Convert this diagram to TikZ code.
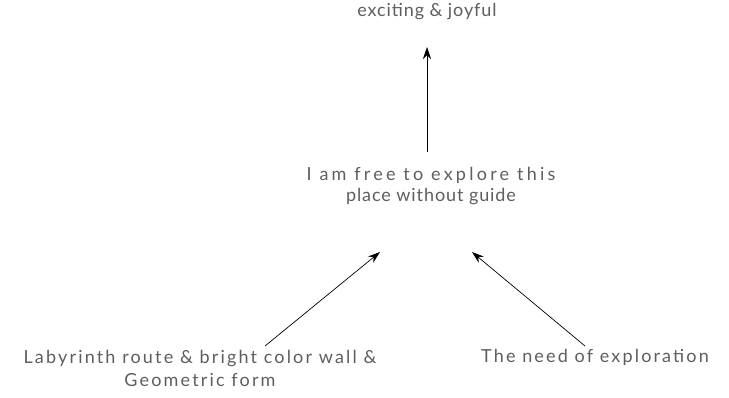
\documentclass[tikz,border=0pt]{standalone}
\usepackage{fontspec}
\setmainfont{Lato}
\usepackage{xcolor}
\usetikzlibrary{arrows.meta,positioning}
\definecolor{labelgray}{HTML}{5E5E5E}
\tikzset{
  lbl/.style={text=labelgray,align=center,font=\fontsize{18}{21}\selectfont\addfontfeature{LetterSpace=5},inner sep=0pt},
  big/.style={lbl,font=\fontsize{18}{23}\selectfont\addfontfeature{LetterSpace=12}},
  cause/.style={-{Stealth[length=12pt,width=8pt]},line width=0.7pt,black}
}

\begin{document}
\begin{tikzpicture}[x=1pt,y=-1pt]
\useasboundingbox (0,0) rectangle (729,398);
% result on top
\node[lbl] (joy) at (427,12) {exciting \& joyful};

% feeling in the middle
\node[lbl] (free) at (431,186) {{\addfontfeature{LetterSpace=18}I am free to explore this}\\place without guide};

% causes below
\node[big] (route) at (200,368) {Labyrinth route \& bright color wall \&\\Geometric form};
\node[big] (need) at (595,357) {The need of exploration};

\coordinate (upS) at (427,152);
\coordinate (upT) at (427,47);
\coordinate (tipL) at (380,252);
\coordinate (tipR) at (472,252);
\coordinate (startL) at (265,346);
\coordinate (startR) at (585,346);

\draw[cause] (upS) -- (upT);
\draw[cause] (startL) -- (tipL);
\draw[cause] (startR) -- (tipR);
\end{tikzpicture}
\end{document}
